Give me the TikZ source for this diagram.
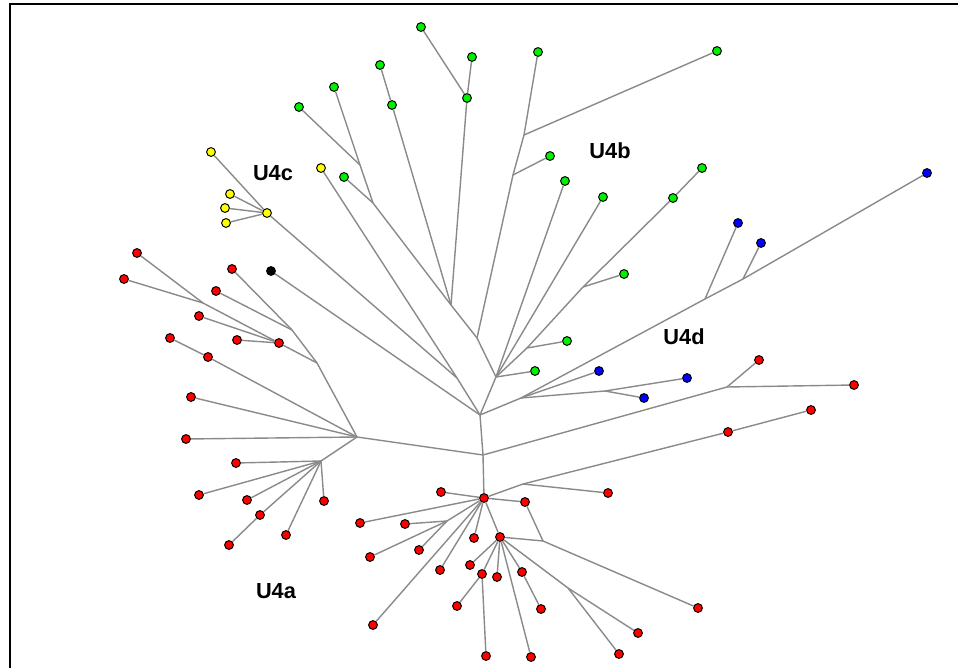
\documentclass[tikz,border=0pt]{standalone}
\usepackage{fontspec}
\setsansfont{Liberation Sans}
\usepackage{xcolor}
\usepackage{tikz}

\definecolor{branchgray}{RGB}{138,138,138}
\definecolor{hapred}{RGB}{255,0,0}
\definecolor{hapgreen}{RGB}{0,240,0}
\definecolor{hapyellow}{RGB}{255,255,0}
\definecolor{hapblue}{RGB}{0,0,255}

\begin{document}
\begin{tikzpicture}[
    x=0.025cm, y=-0.025cm,
    hap/.style={circle, draw=black, line width=0.7pt, inner sep=0pt, minimum size=0.22cm},
    redhap/.style={hap, fill=hapred},
    greenhap/.style={hap, fill=hapgreen},
    yellowhap/.style={hap, fill=hapyellow},
    bluehap/.style={hap, fill=hapblue},
    blackhap/.style={hap, fill=black},
    branch/.style={draw=branchgray, line width=1pt},
    clade/.style={font=\sffamily\bfseries\fontsize{15.5}{18}\selectfont}
  ]
    \useasboundingbox (0,0) rectangle (958,668);
    \draw[line width=1.9pt] (10,668) -- (10,4) -- (958,4);

    % U4b
    \node[greenhap] (g1)  at (421,27)  {};
    \node[greenhap] (g2)  at (472,57)  {};
    \node[greenhap] (g3)  at (467,98)  {};
    \node[greenhap] (g4)  at (380,65)  {};
    \node[greenhap] (g5)  at (392,105) {};
    \node[greenhap] (g6)  at (334,87)  {};
    \node[greenhap] (g7)  at (299,107) {};
    \node[greenhap] (g8)  at (344,177) {};
    \node[greenhap] (g9)  at (538,52)  {};
    \node[greenhap] (g10) at (717,51)  {};
    \node[greenhap] (g11) at (550,156) {};
    \node[greenhap] (g12) at (565,181) {};
    \node[greenhap] (g13) at (603,197) {};
    \node[greenhap] (g14) at (702,168) {};
    \node[greenhap] (g15) at (673,198) {};
    \node[greenhap] (g16) at (624,274) {};
    \node[greenhap] (g17) at (567,341) {};
    \node[greenhap] (g18) at (535,371) {};

    % U4c
    \node[yellowhap] (y1) at (211,152) {};
    \node[yellowhap] (y2) at (230,194) {};
    \node[yellowhap] (y3) at (225,208) {};
    \node[yellowhap] (y4) at (226,223) {};
    \node[yellowhap] (y5) at (267,213) {};
    \node[yellowhap] (y6) at (321,168) {};
    \node[blackhap]  (k1) at (271,271) {};

    % U4d
    \node[bluehap] (b1) at (927,173) {};
    \node[bluehap] (b2) at (738,223) {};
    \node[bluehap] (b3) at (761,243) {};
    \node[bluehap] (b4) at (599,371) {};
    \node[bluehap] (b5) at (687,378) {};
    \node[bluehap] (b6) at (644,398) {};

    % U4a, left part
    \node[redhap] (a1)  at (137,253) {};
    \node[redhap] (a2)  at (124,279) {};
    \node[redhap] (a3)  at (232,269) {};
    \node[redhap] (a4)  at (216,291) {};
    \node[redhap] (a5)  at (199,316) {};
    \node[redhap] (a6)  at (237,340) {};
    \node[redhap] (a7)  at (279,343) {};
    \node[redhap] (a8)  at (170,338) {};
    \node[redhap] (a9)  at (208,357) {};
    \node[redhap] (a10) at (191,397) {};
    \node[redhap] (a11) at (186,439) {};
    \node[redhap] (a12) at (236,463) {};
    \node[redhap] (a13) at (199,495) {};
    \node[redhap] (a14) at (247,500) {};
    \node[redhap] (a15) at (260,515) {};
    \node[redhap] (a16) at (229,545) {};
    \node[redhap] (a17) at (286,535) {};
    \node[redhap] (a18) at (324,501) {};

    % U4a, lower part
    \node[redhap] (r1)  at (484,498) {};
    \node[redhap] (r2)  at (441,492) {};
    \node[redhap] (r3)  at (525,502) {};
    \node[redhap] (r4)  at (360,523) {};
    \node[redhap] (r5)  at (405,524) {};
    \node[redhap] (r6)  at (370,557) {};
    \node[redhap] (r7)  at (419,550) {};
    \node[redhap] (r8)  at (474,538) {};
    \node[redhap] (r9)  at (440,570) {};
    \node[redhap] (r10) at (373,625) {};
    \node[redhap] (r11) at (500,537) {};
    \node[redhap] (r12) at (470,565) {};
    \node[redhap] (r13) at (482,574) {};
    \node[redhap] (r14) at (457,606) {};
    \node[redhap] (r15) at (486,656) {};
    \node[redhap] (r16) at (497,577) {};
    \node[redhap] (r17) at (522,572) {};
    \node[redhap] (r18) at (541,609) {};
    \node[redhap] (r19) at (531,657) {};
    \node[redhap] (r20) at (638,633) {};
    \node[redhap] (r21) at (619,654) {};
    \node[redhap] (r22) at (698,608) {};
    \node[redhap] (r23) at (608,493) {};
    \node[redhap] (r24) at (728,432) {};
    \node[redhap] (r25) at (811,410) {};
    \node[redhap] (r26) at (759,360) {};
    \node[redhap] (r27) at (854,385) {};

    \coordinate (root) at (480,415);
    \coordinate (j1)  at (451,305);
    \coordinate (j2)  at (360,165);
    \coordinate (j3)  at (373,203);
    \coordinate (j4)  at (477,338);
    \coordinate (j5)  at (524,135);
    \coordinate (j6)  at (513,175);
    \coordinate (j7)  at (496,377);
    \coordinate (j8)  at (527,348);
    \coordinate (j9)  at (583,287);
    \coordinate (j10) at (457,378);
    \coordinate (j11) at (521,398);
    \coordinate (j12) at (705,299);
    \coordinate (j13) at (743,279);
    \coordinate (j14) at (605,391);
    \coordinate (j15) at (483,455);
    \coordinate (j16) at (357,437);
    \coordinate (j17) at (727,387);
    \coordinate (j18) at (447,521);
    \coordinate (j19) at (523,484);
    \coordinate (j20) at (568,588);
    \coordinate (j21) at (543,541);
    \coordinate (j22) at (317,363);
    \coordinate (j23) at (321,461);
    \coordinate (j24) at (292,330);
    \coordinate (j25) at (203,303);

    \foreach \u/\v in {g1/g3, g2/g3, g3/j1, g4/g5, g5/j1, g6/j2, g7/j2, j2/j3, g8/j3, j3/j1,
        j1/j4, g9/j5, g10/j5, j5/j6, g11/j6, j6/j4, j4/j7, g12/j7, g13/j7, g18/j7, j8/j7,
        g17/j8, j9/j8, g16/j9, g15/j9, g14/g15, j7/root,
        y1/y5, y2/y5, y3/y5, y4/y5, y5/j10, y6/j10, j10/root, k1/root,
        root/j11, j11/j12, j12/b2, j12/j13, j13/b3, j13/b1, j11/b4, j11/j14, j14/b5, j14/b6,
        root/j15, j15/j16, j15/j17, j17/r26, j17/r27, j15/r1}
      \draw[branch] (\u) -- (\v);

    \foreach \u/\v in {j16/a11, j16/a10, j16/a9, a9/a8, j16/j22, j22/a7, j22/j24,
        a7/a6, a7/a5, a7/j25, j25/a1, j25/a2, j24/a3, j24/a4,
        j16/j23, j23/a12, j23/a13, j23/a14, j23/a15, a15/a16, j23/a17, j23/a18,
        r1/r2, r1/r3, r1/r4, r1/j18, j18/r5, j18/r6, j18/r7, r1/r8, r1/r9, r1/r10,
        r1/r11, r1/j19, j19/r24, r24/r25, j19/r23,
        r11/r12, r11/r13, r13/r14, r13/r15, r11/r16, r11/r17, r17/r18, r11/r19,
        r11/j20, j20/r20, j20/r21, r11/j21, r3/j21, j21/r22}
      \draw[branch] (\u) -- (\v);

    \node[clade] (u4c) at (273,173) {U4c};
    \node[clade] (u4b) at (610,151) {U4b};
    \node[clade] (u4d) at (684,337) {U4d};
    \node[clade] (u4a) at (276,591) {U4a};
\end{tikzpicture}
\end{document}
